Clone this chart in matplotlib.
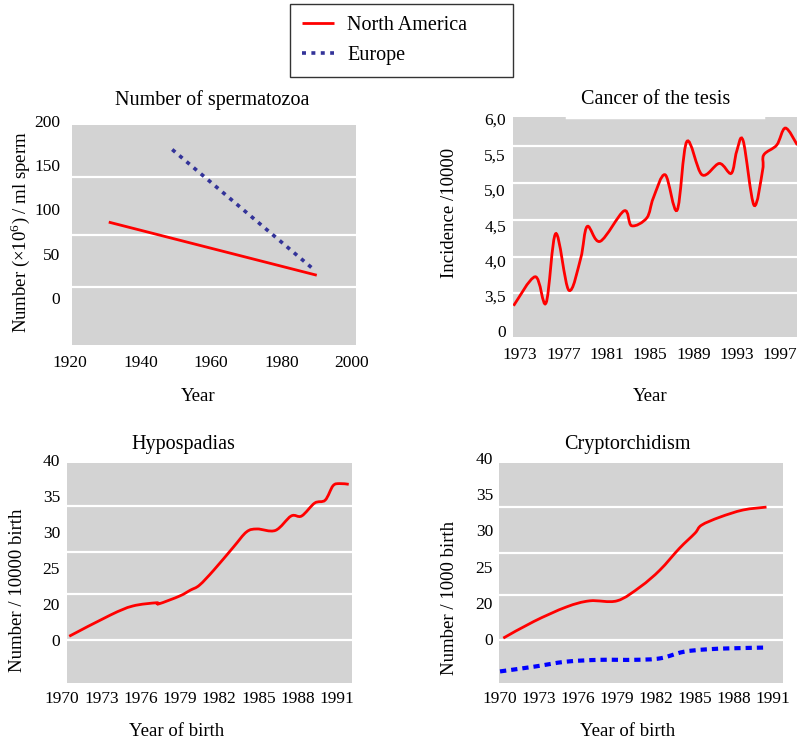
import numpy as np
import matplotlib
matplotlib.use("Agg")
import matplotlib.pyplot as plt
import matplotlib.transforms as mtransforms
from matplotlib.path import Path
from matplotlib.patches import PathPatch

plt.rcParams['font.family'] = ['Liberation Serif', 'DejaVu Serif']
plt.rcParams['mathtext.fontset'] = 'custom'
plt.rcParams['mathtext.rm'] = 'Liberation Serif'

W, H = 800, 742
GRAY = '#d3d3d3'
RED = '#ff0000'
EU_DARK = '#333399'
EU_BLUE = '#0000ff'

# --- data ---
sperm_na_years = [1931, 1990]
sperm_na_count = [88, 28]
sperm_eu_years = [1949, 1989]
sperm_eu_count = [170, 35]

cancer_years = [1972.4, 1974.4, 1975.4, 1976.3, 1977.5, 1978.6, 1979.2, 1980.4,
                1982.6, 1983.3, 1984.7, 1985.3, 1986.4, 1987.5, 1988.4, 1989.8,
                1991.4, 1992.5, 1993.0, 1993.6, 1994.6, 1995.4, 1995.5, 1996.7,
                1997.5, 1998.6]
cancer_incidence = [3.39, 3.80, 3.43, 4.41, 3.61, 4.06, 4.51, 4.30,
                    4.73, 4.52, 4.63, 4.91, 5.24, 4.74, 5.71, 5.24,
                    5.40, 5.26, 5.57, 5.72, 4.81, 5.31, 5.52, 5.66,
                    5.90, 5.66]

hypo_years = [1970.55, 1973.7, 1975.4, 1977.2, 1977.4, 1979.0, 1979.8, 1980.5,
              1981.6, 1983.1, 1984.1, 1984.9, 1986.3, 1987.5, 1988.3, 1989.3,
              1990.1, 1990.7, 1991.2, 1991.9]
hypo_rate = [15.8, 18.75, 20.0, 20.45, 20.3, 21.4, 22.2, 22.9,
             25.0, 28.2, 30.3, 30.7, 30.5, 32.5, 32.5, 34.3,
             34.7, 36.7, 37.0, 36.9]

crypto_na_years = [1970.25, 1972.6, 1975.1, 1976.9, 1979.0, 1980.8, 1982.3,
                   1983.8, 1985.0, 1985.5, 1986.9, 1988.7, 1990.5]
crypto_na_rate = [15.4, 17.7, 19.7, 20.55, 20.55, 22.5, 24.8,
                  27.8, 29.9, 31.0, 32.1, 33.1, 33.5]
crypto_eu_years = [1970.0, 1972.6, 1975.1, 1977.7, 1980.3, 1982.3, 1984.1,
                   1985.9, 1988.0, 1990.6]
crypto_eu_rate = [10.8, 11.45, 12.15, 12.4, 12.4, 12.6, 13.5,
                  13.85, 14.0, 14.1]

sperm_xticks = [1920, 1940, 1960, 1980, 2000]
sperm_yticks = [0, 50, 100, 150, 200]
cancer_xticks = [1973, 1977, 1981, 1985, 1989, 1993, 1997]
cancer_yticks = [3.0, 3.5, 4.0, 4.5, 5.0, 5.5, 6.0]
cancer_ylabels = ['0', '3,5', '4,0', '4,5', '5,0', '5,5', '6,0']
birth_xticks = [1970, 1973, 1976, 1979, 1982, 1985, 1988, 1991]
birth_yticks = [15, 20, 25, 30, 35, 40]
birth_ylabels = ['0', '20', '25', '30', '35', '40']


fig = plt.figure(figsize=(W / 100, H / 100), dpi=100)


def px_axes(x0, y0, x1, y1):
    # axes from pixel box (top-left origin)
    ax = fig.add_axes([x0 / W, 1 - y1 / H, (x1 - x0) / W, (y1 - y0) / H])
    ax.set_facecolor(GRAY)
    for s in ax.spines.values():
        s.set_visible(False)
    ax.set_xticks([])
    ax.set_yticks([])
    return ax


def ftext(x, y, s, **kw):
    fig.text(x / W, 1 - y / H, s, ha='center', va='center', **kw)


def tick_labels(ax, xs, xl, xoff, ys, yl, yoff, size=12.5):
    tx = mtransforms.blended_transform_factory(ax.transData, ax.transAxes)
    tx = mtransforms.offset_copy(tx, fig=fig, y=xoff, units='dots')
    for v, s in zip(xs, xl):
        ax.text(v, 0, s, transform=tx, ha='center', va='center',
                fontsize=size, clip_on=False)
    ty = mtransforms.blended_transform_factory(ax.transAxes, ax.transData)
    ty = mtransforms.offset_copy(ty, fig=fig, x=yoff, units='dots')
    for v, s in zip(ys, yl):
        ax.text(0, v, s, transform=ty, ha='right', va='center',
                fontsize=size, clip_on=False)


def grid(ax, levels):
    for g in levels:
        ax.axhline(g, color='white', lw=1.6, zorder=1)


def smooth(ax, x, y, **kw):
    # smoothed line through the points (Catmull-Rom as cubic Bezier)
    pts = np.column_stack([x, y]).astype(float)
    verts = [pts[0]]
    codes = [Path.MOVETO]
    n = len(pts)
    for i in range(n - 1):
        p0 = pts[max(i - 1, 0)]
        p1 = pts[i]
        p2 = pts[i + 1]
        p3 = pts[min(i + 2, n - 1)]
        verts += [p1 + (p2 - p0) / 6, p2 - (p3 - p1) / 6, p2]
        codes += [Path.CURVE4] * 3
    patch = PathPatch(Path(verts, codes), fill=False, zorder=3, **kw)
    ax.add_patch(patch)
    return patch


# --- Number of spermatozoa ---
ax1 = px_axes(72, 125, 356, 345)
ax1.set_xlim(1920.57, 2001.13)
ax1.set_ylim(-50.8, 197.7)
grid(ax1, [139.0, 73.4, 14.7])
l_na, = ax1.plot(sperm_na_years, sperm_na_count, color=RED, lw=2, zorder=3,
                 solid_capstyle='butt')
l_eu, = ax1.plot(sperm_eu_years, sperm_eu_count, color=EU_DARK, lw=2.6,
                 ls=(0, (1.1, 1.5)), zorder=3)
tick_labels(ax1, sperm_xticks, [str(v) for v in sperm_xticks], -18,
            sperm_yticks, [str(v) for v in sperm_yticks], -12)
ftext(212, 100, 'Number of spermatozoa', fontsize=14.5)
ftext(198, 397, 'Year', fontsize=13.5)
ftext(20, 232, r'Number ($\times$10$^{6}$) / ml sperm', fontsize=13.5,
      rotation=90)

# --- Cancer of the tesis ---
ax2 = px_axes(513, 117, 797, 337)
ax2.set_xlim(1972.35, 1998.57)
ax2.set_ylim(2.949, 6.056)
grid(ax2, [5.647, 5.124, 4.602, 4.079, 3.571])
ax2.axhline(6.056, xmin=0.19, xmax=0.88, color='white', lw=2.5, zorder=1)
smooth(ax2, cancer_years, cancer_incidence, color=RED, lw=2)
tick_labels(ax2, cancer_xticks, [str(v) for v in cancer_xticks], -18,
            cancer_yticks, cancer_ylabels, -7)
ftext(656, 100, 'Cancer of the tesis', fontsize=14.5)
ftext(650, 397, 'Year', fontsize=13.5)
ftext(450, 213, 'Incidence /10000', fontsize=13.5, rotation=90)

# --- Hypospadias ---
ax3 = px_axes(67, 463, 352, 683)
ax3.set_xlim(1970.38, 1992.15)
ax3.set_ylim(9.31, 39.86)
grid(ax3, [33.89, 27.5, 21.67, 15.28])
smooth(ax3, hypo_years, hypo_rate, color=RED, lw=2)
tick_labels(ax3, birth_xticks, [str(v) for v in birth_xticks], -16,
            birth_yticks, birth_ylabels, -7)
ftext(183, 445, 'Hypospadias', fontsize=14.5)
ftext(177, 732, 'Year of birth', fontsize=13.5)
ftext(18, 590, 'Number / 10000 birth', fontsize=13.5, rotation=90)

# --- Cryptorchidism ---
ax4 = px_axes(499, 463, 783, 683)
ax4.set_xlim(1969.92, 1991.77)
ax4.set_ylim(9.2, 39.59)
grid(ax4, [33.51, 27.15, 21.35, 15.14])
smooth(ax4, crypto_na_years, crypto_na_rate, color=RED, lw=2)
smooth(ax4, crypto_eu_years, crypto_eu_rate, color=EU_BLUE, lw=3,
       ls=(0, (1.5, 1.2)))
tick_labels(ax4, birth_xticks, [str(v) for v in birth_xticks], -16,
            birth_yticks, birth_ylabels, -6)
ftext(627, 444, 'Cryptorchidism', fontsize=14.5)
ftext(628, 732, 'Year of birth', fontsize=13.5)
ftext(450, 598, 'Number / 1000 birth', fontsize=13.5, rotation=90)

# --- legend ---
leg = fig.legend([l_na, l_eu], ['North America', 'Europe'],
                 loc='upper left',
                 bbox_to_anchor=(290 / W, 1 - 74 / H, 223 / W, 70 / H),
                 mode='expand', borderaxespad=0, fontsize=14.5,
                 frameon=True, fancybox=False, edgecolor='black',
                 handlelength=1.6, handletextpad=0.65, borderpad=0.6,
                 labelspacing=0.55)
leg.get_frame().set_linewidth(1.0)

fig.savefig('out.png', dpi=100)
